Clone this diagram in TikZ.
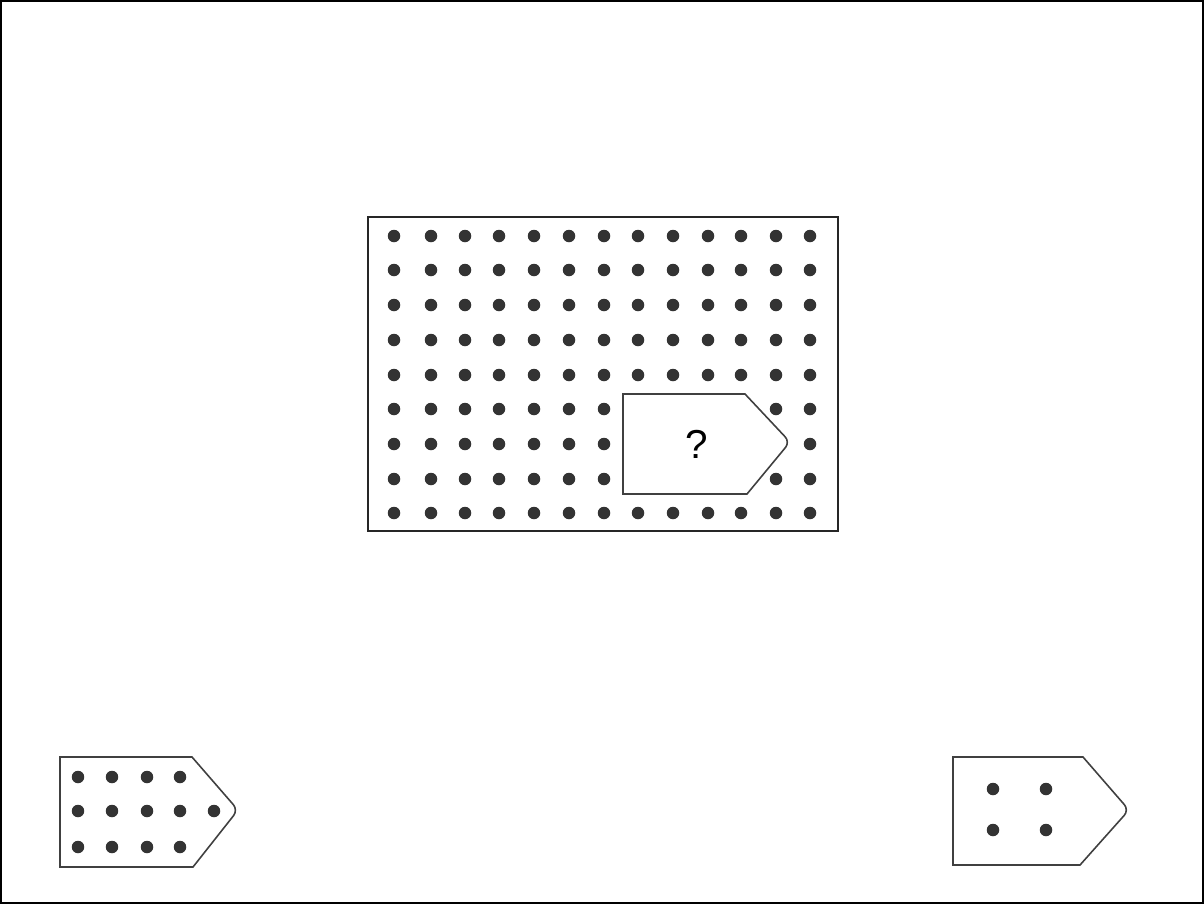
\documentclass[tikz,border=0pt]{standalone}
\usepackage{fontspec}
\setmainfont{Liberation Sans}

\begin{document}
\begin{tikzpicture}[
  x=0.02cm, y=-0.02cm,
  frame/.style={draw=black!85, line width=1pt},
  piece/.style={draw=black!75, line width=0.9pt, fill=white},
  dot/.style={fill=black!80},
]
  \useasboundingbox (0,0) rectangle (1204,904);
  \draw[line width=1.3pt] (1,1) rectangle (1203,903);

  % Big board with the grid of dots
  \draw[frame] (368,217) rectangle (838,531);
  \foreach \y in {236,270,305,340,375,409,444,479,513}
    \foreach \x in {394,431,465,499,534,569,604,638,673,708,741,776,810}
      \fill[dot] (\x,\y) circle (0.125cm);

  % Missing piece
  \draw[piece] (623,394) -- (745,394) [rounded corners=4pt] -- (790,442)
    [sharp corners] -- (747,494) -- (623,494) -- cycle;
  \node[font=\fontsize{23}{26}\selectfont] (ask) at (697,444) {?};

  % Answer choice A
  \draw[piece] (60,757) -- (192,757) [rounded corners=4pt] -- (238,810)
    [sharp corners] -- (193,867) -- (60,867) -- cycle;
  \foreach \y in {777,847}
    \foreach \x in {78,112,147,180}
      \fill[dot] (\x,\y) circle (0.125cm);
  \foreach \x in {78,112,147,180,214}
    \fill[dot] (\x,811) circle (0.125cm);

  % Answer choice B
  \draw[piece] (953,757) -- (1083,757) [rounded corners=4pt] -- (1129,810)
    [sharp corners] -- (1080,865) -- (953,865) -- cycle;
  \foreach \y in {789,830}
    \foreach \x in {993,1046}
      \fill[dot] (\x,\y) circle (0.125cm);
\end{tikzpicture}
\end{document}
